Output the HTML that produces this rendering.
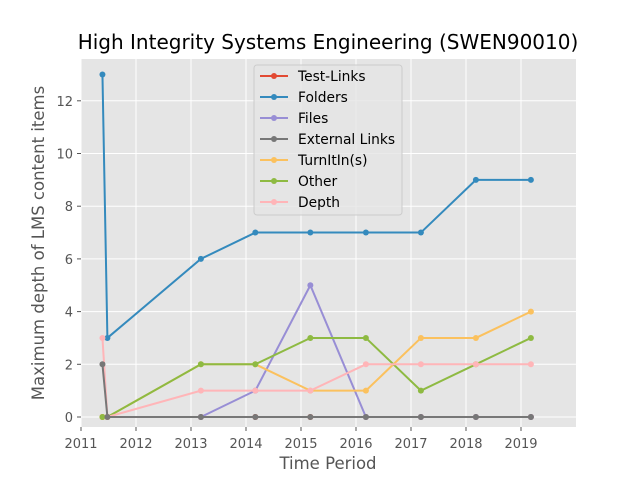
<!DOCTYPE html>
<html><head><meta charset="utf-8"><style>
body{margin:0;background:#fff;}
svg{font-family:"DejaVu Sans","Liberation Sans",sans-serif;display:block}
</style></head><body>
<svg id="chart" width="640" height="480">
<rect width="640" height="480" fill="#fff"/>
<text x="328" y="49" text-anchor="middle" font-size="20" fill="#000">High Integrity Systems Engineering (SWEN90010)</text>
<rect x="81" y="59" width="495" height="368" fill="#e5e5e5"/>
<g id="grid"></g><g id="axes"></g><g id="series"></g>
<text x="328" y="469" text-anchor="middle" font-size="16.5" fill="#555">Time Period</text>
<text transform="translate(44,243) rotate(-90)" text-anchor="middle" font-size="16.5" fill="#555">Maximum depth of LMS content items</text>
<g id="legend"></g>
</svg>
<script>
const xTicks=[2011,2012,2013,2014,2015,2016,2017,2018,2019];
const yTicks=[0,2,4,6,8,10,12];
const dates=[2011.39,2011.48,2013.18,2014.17,2015.17,2016.18,2017.18,2018.18,2019.18];
const seriesNames=["Test-Links","Folders","Files","External Links","TurnItIn(s)","Other","Depth"];
const seriesColors=["#E24A33","#348ABD","#988ED5","#777777","#FBC15E","#8EBA42","#FFB5B8"];
const testLinks=[0,0,0,0,0,0,0,0,0];
const folders=[13,3,6,7,7,7,7,9,9];
const files=[null,null,0,1,5,0,0,0,0];
const externalLinks=[2,0,0,0,0,0,0,0,0];
const turnitin=[0,0,2,2,1,1,3,3,4];
const other=[0,0,2,2,3,3,1,2,3];
const depth=[3,0,1,1,1,2,2,2,2];
const seriesData=[testLinks,folders,files,externalLinks,turnitin,other,depth];
const drawOrder=[0,1,2,4,5,6,3];
const NS="http://www.w3.org/2000/svg";
const X=v=>81+(v-2011)*55;
const Y=v=>417-v*26.35;
function mk(tag,attrs,parent){const e=document.createElementNS(NS,tag);for(const k in attrs)e.setAttribute(k,attrs[k]);parent.appendChild(e);return e;}
const grid=document.getElementById('grid'),axes=document.getElementById('axes'),ser=document.getElementById('series'),leg=document.getElementById('legend');
xTicks.forEach(t=>{
 const l=mk('line',{x1:X(t),x2:X(t),y1:59,y2:427,stroke:'#fff','stroke-width':1},grid);
 
 
 const tk=mk('line',{x1:X(t),x2:X(t),y1:427,y2:431,stroke:'#555'},axes);
 
 
 const tx=mk('text',{x:X(t),y:448,'text-anchor':'middle','font-size':13,fill:'#555'},axes);
 tx.textContent=t;
 
 
});
yTicks.forEach(t=>{
 const l=mk('line',{x1:81,x2:576,y1:Y(t),y2:Y(t),stroke:'#fff','stroke-width':1},grid);
 
 
 const tk=mk('line',{x1:77,x2:81,y1:Y(t),y2:Y(t),stroke:'#555'},axes);
 
 
 const tx=mk('text',{x:73,y:Y(t)+5,'text-anchor':'end','font-size':13,fill:'#555'},axes);
 tx.textContent=t;
 
 
});
drawOrder.forEach(i=>{
 const d=seriesData[i],c=seriesColors[i];
 const g=mk('g',{},ser);
 
 
 const pts=[];d.forEach((v,j)=>{if(v!==null)pts.push(X(dates[j])+','+Y(v));});
 mk('polyline',{points:pts.join(' '),fill:'none',stroke:c,'stroke-width':2},g);
 d.forEach((v,j)=>{if(v===null)return;
  const p=mk('circle',{cx:X(dates[j]),cy:Y(v),r:3,fill:c},g);
  
  
 });
});
mk('rect',{x:254,y:65,width:148,height:150,fill:'#e5e5e5',stroke:'#ccc','fill-opacity':0.8,rx:3},leg);
seriesNames.forEach((n,i)=>{
 const y=76+i*21;
 const g=mk('g',{},leg);
 
 
 mk('line',{x1:260,x2:288,y1:y,y2:y,stroke:seriesColors[i],'stroke-width':2},g);
 mk('circle',{cx:274,cy:y,r:3,fill:seriesColors[i]},g);
 const t=mk('text',{x:298,y:y+5,'font-size':13.8,fill:'#000'},g);
 t.textContent=n;
});
</script>
</body></html>
